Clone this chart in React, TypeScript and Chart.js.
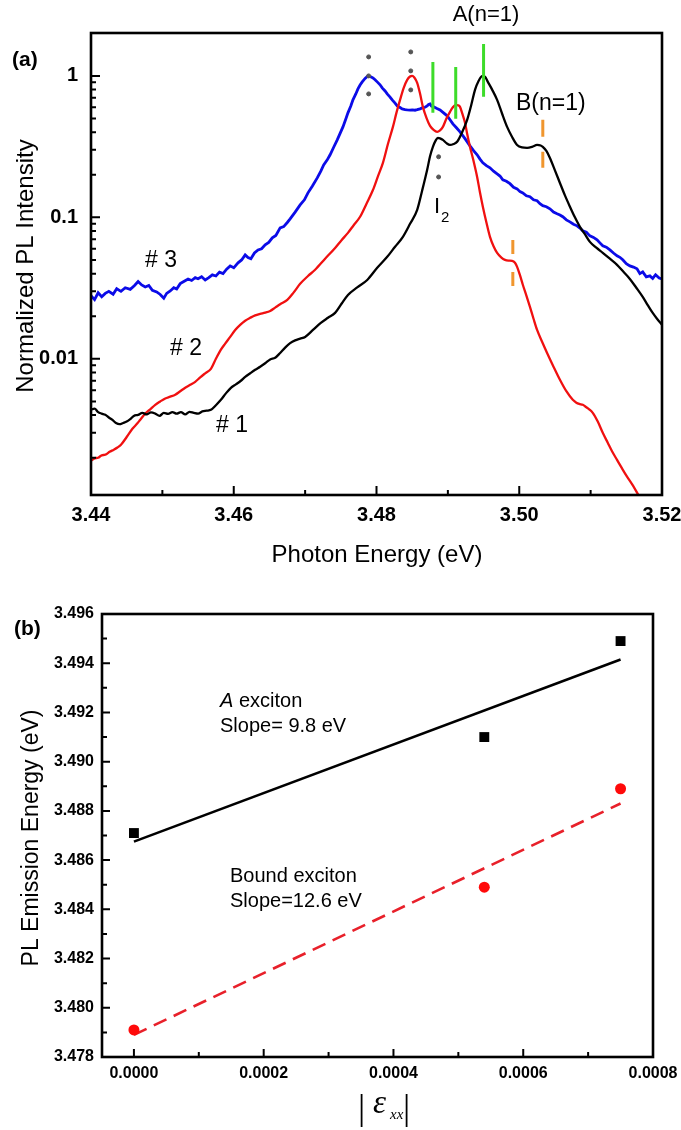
import React, { useEffect, useRef } from "react";
import { Chart, registerables } from "chart.js";

Chart.register(...registerables);

const SANS = '"Liberation Sans", Arial, sans-serif';
const SERIF = '"Liberation Serif", "Times New Roman", serif';

// ---------------- Panel (a) data ----------------
const energyTicks = [3.44, 3.46, 3.48, 3.5, 3.52];
const energyMinorTicks = [3.45, 3.47, 3.49, 3.51];
const intensityTicks = [0.01, 0.1, 1];
const intensityDecades = [0.001, 0.01, 0.1, 1];

// sample #1 (black)
const s1Energy = [
  3.44, 3.4405, 3.441, 3.4415, 3.442, 3.4425, 3.443, 3.4435, 3.444, 3.4445, 3.445, 3.4455, 3.446, 3.4466,
  3.4472, 3.4478, 3.4484, 3.449, 3.4496, 3.4502, 3.4508, 3.4514, 3.452, 3.4526, 3.4532, 3.4538, 3.4544,
  3.455, 3.4556, 3.4562, 3.4568, 3.4575, 3.4582, 3.4589, 3.4596, 3.4603, 3.461, 3.4616, 3.4623, 3.463,
  3.4637, 3.4644, 3.4651, 3.4658, 3.4665, 3.4672, 3.4679, 3.4686, 3.4693, 3.47, 3.4711, 3.4722, 3.4732,
  3.4742, 3.4751, 3.476, 3.4773, 3.4787, 3.4801, 3.4815, 3.4826, 3.4837, 3.4847, 3.4857, 3.4864, 3.4871,
  3.4875, 3.4879, 3.4883, 3.4886, 3.4889, 3.4893, 3.4898, 3.4903, 3.4908, 3.4913, 3.492, 3.4927, 3.4933,
  3.4938, 3.4943, 3.4948, 3.4952, 3.4956, 3.4962, 3.4969, 3.4976, 3.4983, 3.499, 3.4997, 3.5004, 3.5011,
  3.5018, 3.5025, 3.503, 3.5033, 3.5038, 3.5043, 3.505, 3.5057, 3.5064, 3.5071, 3.5078, 3.5085, 3.5092,
  3.5099, 3.5108, 3.5117, 3.5127, 3.5137, 3.5146, 3.5155, 3.5164, 3.5173, 3.518, 3.5187, 3.5193, 3.52,
];
const s1Intensity = [
  0.00436, 0.00445, 0.0042, 0.0041, 0.00402, 0.00385, 0.0037, 0.00352, 0.00345, 0.00352, 0.0036, 0.00375,
  0.00395, 0.00402, 0.00415, 0.00405, 0.00418, 0.0041, 0.00395, 0.00415, 0.00408, 0.0042, 0.0041, 0.0042,
  0.00405, 0.00422, 0.00415, 0.0041, 0.00425, 0.0043, 0.00436, 0.0047, 0.00513, 0.0057, 0.00624, 0.0066,
  0.007, 0.00745, 0.0079, 0.00836, 0.0088, 0.0093, 0.0099, 0.01017, 0.011, 0.012, 0.0129, 0.0135, 0.0139,
  0.01429, 0.016, 0.01795, 0.0195, 0.02113, 0.0245, 0.0283, 0.032, 0.0361, 0.044, 0.0526, 0.062, 0.0728,
  0.09, 0.113, 0.155, 0.217, 0.27, 0.315, 0.35, 0.365, 0.362, 0.353, 0.335, 0.325, 0.33, 0.342, 0.4, 0.489,
  0.63, 0.796, 0.92, 0.995, 0.985, 0.907, 0.8, 0.677, 0.54, 0.436, 0.37, 0.325, 0.312, 0.31, 0.315, 0.325,
  0.322, 0.315, 0.295, 0.263, 0.215, 0.175, 0.143, 0.119, 0.1, 0.0857, 0.076, 0.0671, 0.061, 0.0561, 0.051,
  0.0462, 0.0412, 0.0367, 0.0318, 0.0274, 0.024, 0.0211, 0.0192, 0.0174,
];

// sample #2 (red)
const s2Energy = [
  3.44, 3.4405, 3.441, 3.4415, 3.442, 3.4426, 3.4432, 3.4437, 3.4442, 3.445, 3.4458, 3.4465, 3.4469, 3.4476,
  3.4483, 3.449, 3.4497, 3.4504, 3.4511, 3.4518, 3.4525, 3.4532, 3.4539, 3.4546, 3.4553, 3.456, 3.4568,
  3.4575, 3.4582, 3.4588, 3.4595, 3.4602, 3.4609, 3.4616, 3.4623, 3.463, 3.4637, 3.4644, 3.4651, 3.4658,
  3.4665, 3.4675, 3.4684, 3.4693, 3.4704, 3.4714, 3.4728, 3.4742, 3.4751, 3.476, 3.4768, 3.4777, 3.4786,
  3.4795, 3.4802, 3.4809, 3.4816, 3.4823, 3.4828, 3.4833, 3.4838, 3.4843, 3.4847, 3.485, 3.4853, 3.4857,
  3.4861, 3.4865, 3.487, 3.4875, 3.488, 3.4885, 3.4889, 3.4893, 3.4898, 3.4903, 3.4907, 3.4911, 3.4914,
  3.4917, 3.492, 3.4924, 3.4927, 3.4931, 3.4936, 3.4941, 3.4945, 3.4949, 3.4954, 3.4959, 3.4964, 3.4969,
  3.4975, 3.498, 3.4985, 3.499, 3.4994, 3.4997, 3.5001, 3.5005, 3.501, 3.5015, 3.502, 3.5025, 3.5032,
  3.5039, 3.5048, 3.5057, 3.5066, 3.5075, 3.508, 3.5084, 3.5089, 3.5094, 3.5098, 3.5103, 3.511, 3.5117,
  3.5124, 3.513, 3.5137, 3.5144, 3.5151, 3.5158, 3.5166, 3.5176,
];
const s2Intensity = [
  0.0019, 0.00198, 0.002, 0.00208, 0.0021, 0.0022, 0.00228, 0.00236, 0.00247, 0.0028, 0.0032, 0.0035,
  0.00371, 0.0041, 0.0044, 0.00473, 0.005, 0.00525, 0.0054, 0.00557, 0.0059, 0.00625, 0.00655, 0.00688,
  0.0074, 0.0079, 0.00849, 0.01, 0.0116, 0.0128, 0.01429, 0.016, 0.0174, 0.0186, 0.0195, 0.0203, 0.0208,
  0.0212, 0.0218, 0.023, 0.0243, 0.0261, 0.0295, 0.0339, 0.0385, 0.0426, 0.051, 0.0608, 0.069, 0.0777,
  0.088, 0.101, 0.125, 0.156, 0.195, 0.243, 0.33, 0.436, 0.55, 0.677, 0.82, 0.937, 0.99, 1.0, 0.975, 0.893,
  0.75, 0.604, 0.505, 0.443, 0.415, 0.402, 0.412, 0.436, 0.5, 0.557, 0.6, 0.624, 0.62, 0.604, 0.545, 0.466,
  0.39, 0.315, 0.25, 0.193, 0.15, 0.119, 0.092, 0.0728, 0.0625, 0.0561, 0.052, 0.0501, 0.0495, 0.0493,
  0.0478, 0.0447, 0.039, 0.0334, 0.028, 0.0233, 0.0192, 0.016, 0.0132, 0.011, 0.0088, 0.00711, 0.0059,
  0.00513, 0.0049, 0.0048, 0.00473, 0.00455, 0.0044, 0.00415, 0.0036, 0.003, 0.00255, 0.00222, 0.00193,
  0.00168, 0.00147, 0.0013, 0.00111, 0.0009,
];

// sample #3 (blue)
const s3Energy = [
  3.44, 3.4405, 3.441, 3.4415, 3.442, 3.4425, 3.4431, 3.4436, 3.4442, 3.4448, 3.4455, 3.4461, 3.4466,
  3.4471, 3.4476, 3.4481, 3.4486, 3.4492, 3.4497, 3.4502, 3.4506, 3.4511, 3.4516, 3.452, 3.4525, 3.453,
  3.4536, 3.4541, 3.4546, 3.455, 3.4555, 3.456, 3.4565, 3.457, 3.4575, 3.458, 3.4585, 3.459, 3.4595, 3.46,
  3.4606, 3.4611, 3.4616, 3.462, 3.4624, 3.4629, 3.4634, 3.4639, 3.4644, 3.4649, 3.4654, 3.4659, 3.4665,
  3.467, 3.4675, 3.4679, 3.4686, 3.4693, 3.4699, 3.4704, 3.471, 3.4717, 3.4722, 3.4726, 3.4731, 3.4735,
  3.474, 3.4745, 3.4749, 3.4753, 3.4757, 3.476, 3.4764, 3.4767, 3.4771, 3.4774, 3.4777, 3.478, 3.4784,
  3.4788, 3.4792, 3.4795, 3.4798, 3.4801, 3.4805, 3.4808, 3.4812, 3.4815, 3.4819, 3.4822, 3.4826, 3.4829,
  3.4833, 3.4836, 3.484, 3.4843, 3.4847, 3.485, 3.4854, 3.4857, 3.4861, 3.4864, 3.4868, 3.4871, 3.4873,
  3.4875, 3.4877, 3.488, 3.4884, 3.4889, 3.4894, 3.4899, 3.4903, 3.4907, 3.4912, 3.4917, 3.4924, 3.4931,
  3.4936, 3.4941, 3.4945, 3.4949, 3.4954, 3.4959, 3.4964, 3.4969, 3.4973, 3.4977, 3.4982, 3.4987, 3.4992,
  3.4997, 3.5001, 3.5005, 3.501, 3.5015, 3.502, 3.5025, 3.5029, 3.5033, 3.5038, 3.5043, 3.5048, 3.5053,
  3.5057, 3.5061, 3.5066, 3.5071, 3.5076, 3.5081, 3.5085, 3.5089, 3.5094, 3.5099, 3.5104, 3.5109, 3.5113,
  3.5117, 3.5122, 3.5127, 3.5132, 3.5137, 3.5141, 3.5145, 3.515, 3.5155, 3.516, 3.5165, 3.5169, 3.5173,
  3.5178, 3.5183, 3.5187, 3.5191, 3.5196, 3.52,
];
const s3Intensity = [
  0.0279, 0.0262, 0.0293, 0.0275, 0.029, 0.03, 0.0286, 0.0313, 0.03, 0.0318, 0.031, 0.033, 0.0352, 0.0333,
  0.0322, 0.033, 0.0305, 0.0297, 0.0285, 0.0268, 0.029, 0.0302, 0.0318, 0.0312, 0.034, 0.0352, 0.0367,
  0.0358, 0.0375, 0.0368, 0.038, 0.0361, 0.0375, 0.0392, 0.0385, 0.041, 0.04, 0.043, 0.0454, 0.044, 0.0477,
  0.05, 0.0543, 0.052, 0.051, 0.056, 0.0589, 0.06, 0.064, 0.0665, 0.0716, 0.0745, 0.0843, 0.086, 0.092,
  0.0975, 0.109, 0.1226, 0.133, 0.149, 0.166, 0.19, 0.212, 0.235, 0.255, 0.277, 0.313, 0.353, 0.392, 0.436,
  0.495, 0.548, 0.612, 0.677, 0.745, 0.809, 0.862, 0.907, 0.96, 1.0, 0.985, 0.968, 0.94, 0.907, 0.865,
  0.823, 0.782, 0.746, 0.708, 0.677, 0.642, 0.614, 0.598, 0.585, 0.578, 0.575, 0.573, 0.575, 0.572, 0.577,
  0.585, 0.594, 0.6, 0.614, 0.628, 0.634, 0.612, 0.604, 0.59, 0.575, 0.548, 0.522, 0.49, 0.458, 0.43, 0.402,
  0.36, 0.32, 0.296, 0.277, 0.258, 0.243, 0.232, 0.224, 0.212, 0.203, 0.196, 0.184, 0.18, 0.173, 0.163,
  0.159, 0.152, 0.149, 0.142, 0.14, 0.133, 0.131, 0.125, 0.121, 0.119, 0.115, 0.109, 0.106, 0.104, 0.101,
  0.096, 0.0929, 0.0895, 0.0871, 0.084, 0.0803, 0.0785, 0.074, 0.0722, 0.0693, 0.066, 0.0629, 0.0615,
  0.0589, 0.056, 0.0535, 0.0522, 0.0501, 0.047, 0.0454, 0.0445, 0.0433, 0.04, 0.0412, 0.038, 0.0386, 0.037,
  0.0393, 0.0372, 0.0367,
];

// peak markers (energy, intensity range)
const greenMarkerEnergy = [3.4879, 3.4911, 3.495];
const greenMarkerTop = [1.256, 1.158, 1.683];
const greenMarkerBottom = [0.548, 0.497, 0.711];
const orangeMarkerEnergy = [3.5033, 3.4991];
const orangeMarkerTop = [0.489, 0.0693];
const orangeMarkerBottom = [0.224, 0.0323];
const dotEnergy = [3.4789, 3.4789, 3.4789, 3.4848, 3.4848, 3.4848, 3.4887, 3.4887];
const dotIntensity = [1.362, 1.0, 0.746, 1.477, 1.085, 0.796, 0.268, 0.193];

// ---------------- Panel (b) data ----------------
const strainTicks = [0, 0.0002, 0.0004, 0.0006, 0.0008];
const strainMinorTicks = [0.0001, 0.0003, 0.0005, 0.0007];
const emissionTicks = [3.478, 3.48, 3.482, 3.484, 3.486, 3.488, 3.49, 3.492, 3.494, 3.496];
const emissionMinorTicks = [3.479, 3.481, 3.483, 3.485, 3.487, 3.489, 3.491, 3.493, 3.495];

const strainValues = [0, 0.00054, 0.00075];
const aExcitonEnergy = [3.4871, 3.491, 3.4949];
const boundExcitonEnergy = [3.4791, 3.4849, 3.4889];
const fitStrain = [0, 0.00075];
const aExcitonFit = [3.48675, 3.49415];
const boundExcitonFit = [3.4789, 3.4883];

const pts = (xs: number[], ys: number[]) => xs.map((x, i) => ({ x, y: ys[i] }));

function text(ctx: CanvasRenderingContext2D, s: string, x: number, y: number, font: string, align: CanvasTextAlign = "left") {
  ctx.font = font;
  ctx.textAlign = align;
  ctx.textBaseline = "alphabetic";
  ctx.fillStyle = "#000";
  ctx.fillText(s, x, y);
}

function drawTicks(ctx: CanvasRenderingContext2D, chart: any, xMajor: number[], xMinor: number[], yMajor: number[], yMinor: number[], majLen: number, minLen: number) {
  const a = chart.chartArea;
  const xs = chart.scales.x;
  const ys = chart.scales.y;
  ctx.strokeStyle = "#000";
  ctx.lineWidth = 2;
  ctx.beginPath();
  const tx = (v: number, len: number) => {
    const p = xs.getPixelForValue(v);
    ctx.moveTo(p, a.bottom);
    ctx.lineTo(p, a.bottom - len);
  };
  const ty = (v: number, len: number) => {
    const p = ys.getPixelForValue(v);
    ctx.moveTo(a.left, p);
    ctx.lineTo(a.left + len, p);
  };
  xMajor.forEach((v) => tx(v, majLen));
  xMinor.forEach((v) => tx(v, minLen));
  yMajor.forEach((v) => ty(v, majLen));
  yMinor.forEach((v) => ty(v, minLen));
  ctx.stroke();
  ctx.lineWidth = 2.6;
  ctx.strokeRect(a.left, a.top, a.right - a.left, a.bottom - a.top);
}

const panelAPlugin = {
  id: "panelA",
  afterDraw(chart: any) {
    const ctx = chart.ctx as CanvasRenderingContext2D;
    const ys = chart.scales.y;
    const minors: number[] = [];
    intensityDecades.forEach((d) => {
      for (let m = 2; m <= 9; m++) {
        const v = m * d;
        if (v > ys.min && v < ys.max * 0.95) minors.push(v);
      }
    });
    ctx.save();
    drawTicks(ctx, chart, energyTicks, energyMinorTicks, intensityTicks, minors, 9, 5);
    text(ctx, "(a)", 12, 66, `bold 21px ${SANS}`);
    text(ctx, "A(n=1)", 486, 21, `22px ${SANS}`, "center");
    text(ctx, "B(n=1)", 516, 110, `23px ${SANS}`);
    text(ctx, "I", 434, 213, `22px ${SANS}`);
    text(ctx, "2", 441, 222, `15px ${SANS}`);
    text(ctx, "# 3", 145, 267, `23px ${SANS}`);
    text(ctx, "# 2", 170, 355, `23px ${SANS}`);
    text(ctx, "# 1", 216, 432, `23px ${SANS}`);
    text(ctx, "Photon Energy (eV)", 377, 562, `24px ${SANS}`, "center");
    ctx.translate(33, 266);
    ctx.rotate(-Math.PI / 2);
    text(ctx, "Normalized PL Intensity", 0, 0, `24px ${SANS}`, "center");
    ctx.restore();
  },
};

const panelBPlugin = {
  id: "panelB",
  afterDraw(chart: any) {
    const ctx = chart.ctx as CanvasRenderingContext2D;
    ctx.save();
    drawTicks(ctx, chart, strainTicks, strainMinorTicks, emissionTicks, emissionMinorTicks, 8, 5);
    text(ctx, "(b)", 14, 60, `bold 21px ${SANS}`);
    // A exciton
    ctx.font = `italic 20px ${SANS}`;
    const wA = ctx.measureText("A").width;
    text(ctx, "A", 220, 132, `italic 20px ${SANS}`);
    text(ctx, " exciton", 220 + wA, 132, `20px ${SANS}`);
    text(ctx, "Slope= 9.8 eV", 220, 157, `20px ${SANS}`);
    text(ctx, "Bound exciton", 230, 307, `20px ${SANS}`);
    text(ctx, "Slope=12.6 eV", 230, 332, `20px ${SANS}`);
    // x title |ε_xx|
    text(ctx, "|", 358, 544, `36px ${SERIF}`);
    text(ctx, "\u03B5", 373, 538, `italic 33px ${SERIF}`);
    text(ctx, "xx", 390, 544, `italic 15px ${SERIF}`);
    text(ctx, "|", 403, 544, `36px ${SERIF}`);
    ctx.translate(38, 263);
    ctx.rotate(-Math.PI / 2);
    text(ctx, "PL Emission Energy (eV)", 0, 0, `23px ${SANS}`, "center");
    ctx.restore();
  },
};

function fixY(width: number) {
  return (s: any) => {
    s.width = width;
    s.paddingTop = 0;
    s.paddingBottom = 0;
  };
}
function fixX(height: number) {
  return (s: any) => {
    s.height = height;
    s.paddingLeft = 0;
    s.paddingRight = 0;
  };
}

function PanelA() {
  const ref = useRef<HTMLCanvasElement>(null);
  useEffect(() => {
    const lineSet = (data: any[], color: string, width: number, interp: boolean) => ({
      type: "line" as const,
      data,
      borderColor: color,
      borderWidth: width,
      pointRadius: 0,
      fill: false,
      cubicInterpolationMode: interp ? ("monotone" as const) : ("default" as const),
      tension: 0,
    });
    const datasets: any[] = [];
    greenMarkerEnergy.forEach((e, i) => {
      datasets.push({
        type: "line",
        data: [{ x: e, y: greenMarkerTop[i] }, { x: e, y: greenMarkerBottom[i] }],
        borderColor: "#3ddc2a",
        borderWidth: 3,
        pointRadius: 0,
      });
    });
    orangeMarkerEnergy.forEach((e, i) => {
      datasets.push({
        type: "line",
        data: [{ x: e, y: orangeMarkerTop[i] }, { x: e, y: orangeMarkerBottom[i] }],
        borderColor: "#f0962e",
        borderWidth: 3,
        borderDash: i === 0 ? [17, 15] : [14, 18],
        pointRadius: 0,
      });
    });
    datasets.push({
      type: "scatter",
      data: pts(dotEnergy, dotIntensity),
      backgroundColor: "#555",
      borderColor: "#555",
      pointRadius: 2,
    });
    datasets.push(lineSet(pts(s1Energy, s1Intensity), "#000000", 2.3, true));
    datasets.push(lineSet(pts(s2Energy, s2Intensity), "#f01010", 2.3, true));
    datasets.push(lineSet(pts(s3Energy, s3Intensity), "#0b0be8", 2.8, false));

    const chart = new Chart(ref.current!, {
      type: "line",
      data: { datasets },
      plugins: [panelAPlugin],
      options: {
        animation: false,
        responsive: false,
        devicePixelRatio: 1,
        events: [],
        layout: { padding: { left: 0, top: 33, right: 19, bottom: 0 } },
        plugins: { legend: { display: false }, tooltip: { enabled: false } },
        scales: {
          x: {
            type: "linear",
            min: 3.44,
            max: 3.52,
            grid: { display: false, drawTicks: false },
            border: { display: false },
            afterBuildTicks: (s: any) => {
              s.ticks = energyTicks.map((v) => ({ value: v }));
            },
            afterFit: fixX(80),
            ticks: {
              autoSkip: false,
              maxRotation: 0,
              padding: 8,
              color: "#000",
              font: { family: SANS, size: 20, weight: "bold" },
              callback: (v: any) => Number(v).toFixed(2),
            },
          },
          y: {
            type: "logarithmic",
            min: 0.00109,
            max: 2.01,
            grid: { display: false, drawTicks: false },
            border: { display: false },
            afterBuildTicks: (s: any) => {
              s.ticks = intensityTicks.map((v) => ({ value: v }));
            },
            afterFit: fixY(91),
            ticks: {
              autoSkip: false,
              padding: 13,
              color: "#000",
              font: { family: SANS, size: 20, weight: "bold" },
              callback: (v: any) => {
                const n = Number(v);
                if (Math.abs(n - 1) < 1e-6) return "1";
                if (Math.abs(n - 0.1) < 1e-7) return "0.1";
                if (Math.abs(n - 0.01) < 1e-8) return "0.01";
                return "";
              },
            },
          },
        },
      } as any,
    });
    return () => chart.destroy();
  }, []);
  return <canvas ref={ref} width={681} height={575} style={{ position: "absolute", left: 0, top: 0, display: "block" }} />;
}

function PanelB() {
  const ref = useRef<HTMLCanvasElement>(null);
  useEffect(() => {
    const chart = new Chart(ref.current!, {
      type: "scatter",
      data: {
        datasets: [
          {
            type: "scatter",
            data: pts(strainValues, aExcitonEnergy),
            pointStyle: "rect",
            pointRadius: 7,
            backgroundColor: "#000",
            borderColor: "#000",
            borderWidth: 0,
          },
          {
            type: "scatter",
            data: pts(strainValues, boundExcitonEnergy),
            pointStyle: "circle",
            pointRadius: 5.5,
            backgroundColor: "#ff0a0a",
            borderColor: "#ff0a0a",
            borderWidth: 0,
          },
          {
            type: "line",
            data: pts(fitStrain, aExcitonFit),
            borderColor: "#000",
            borderWidth: 2.6,
            pointRadius: 0,
          },
          {
            type: "line",
            data: pts(fitStrain, boundExcitonFit),
            borderColor: "#e8202a",
            borderWidth: 2.6,
            borderDash: [14, 8],
            pointRadius: 0,
          },
        ] as any,
      },
      plugins: [panelBPlugin],
      options: {
        animation: false,
        responsive: false,
        devicePixelRatio: 1,
        events: [],
        layout: { padding: { left: 0, top: 39, right: 28, bottom: 0 } },
        plugins: { legend: { display: false }, tooltip: { enabled: false } },
        scales: {
          x: {
            type: "linear",
            min: -0.0000492,
            max: 0.0008,
            grid: { display: false, drawTicks: false },
            border: { display: false },
            afterBuildTicks: (s: any) => {
              s.ticks = strainTicks.map((v) => ({ value: v }));
            },
            afterFit: fixX(73),
            ticks: {
              autoSkip: false,
              maxRotation: 0,
              padding: 7,
              color: "#000",
              font: { family: SANS, size: 16, weight: "bold" },
              callback: (v: any) => Number(v).toFixed(4),
            },
          },
          y: {
            type: "linear",
            min: 3.478,
            max: 3.496,
            grid: { display: false, drawTicks: false },
            border: { display: false },
            afterBuildTicks: (s: any) => {
              s.ticks = emissionTicks.map((v) => ({ value: v }));
            },
            afterFit: fixY(102),
            ticks: {
              autoSkip: false,
              padding: 8,
              color: "#000",
              font: { family: SANS, size: 16, weight: "bold" },
              callback: (v: any) => Number(v).toFixed(3),
            },
          },
        },
      } as any,
    });
    return () => chart.destroy();
  }, []);
  return <canvas ref={ref} width={681} height={555} style={{ position: "absolute", left: 0, top: 575, display: "block" }} />;
}

export default function App() {
  return (
    <div style={{ position: "absolute", left: 0, top: 0, width: 681, height: 1130, background: "#fff" }}>
      <PanelA />
      <PanelB />
    </div>
  );
}
